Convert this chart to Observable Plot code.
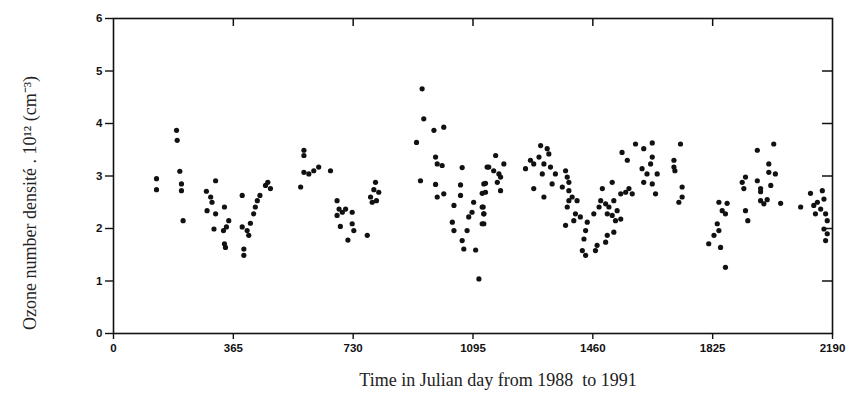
<!DOCTYPE html>
<html>
<head>
<meta charset="utf-8">
<script src="https://cdn.jsdelivr.net/npm/d3@7"></script>
<script src="https://cdn.jsdelivr.net/npm/@observablehq/plot@0.6"></script>
<style>
  html, body { margin: 0; padding: 0; background: #fff; }
  svg { display: block; }
</style>
</head>
<body>
<div id="chart"></div>
<script>
// Julian day (since start of 1988) of each observation
const days = [
  131, 131, 192, 194, 202, 207, 207, 212,
  283, 311, 296, 300, 285, 311, 338, 306, 351, 344, 335, 338, 341,
  392, 397, 397, 392, 407, 412, 417, 427, 432, 438, 446, 463, 478, 470,
  580, 580, 570, 580, 595, 610, 625, 661,
  681, 687, 697, 681, 707, 727, 691, 727, 732, 714, 773,
  798, 793, 808, 783, 788, 801,
  940, 945, 976, 1006, 923, 935, 981, 986, 1001, 981, 986, 1006,
  1062, 1057, 1057, 1037, 1032, 1037, 1077, 1062, 1067, 1103, 1113,
  1097, 1092, 1082, 1123, 1128, 1123, 1133, 1123, 1138,
  1128, 1133, 1126, 1128, 1128,
  1164, 1143, 1158, 1174, 1189, 1179, 1169, 1179,
  1255, 1270, 1280, 1301, 1321, 1326, 1296, 1311, 1331, 1306, 1346,
  1280, 1311, 1336,
  1377, 1382, 1387, 1367, 1387, 1397, 1387, 1412, 1382, 1407, 1422, 1402, 1443, 1377, 1438,
  1433, 1428, 1438, 1468, 1473, 1499, 1504, 1524,
  1463, 1479, 1484, 1489, 1499, 1509, 1504, 1519, 1529, 1545, 1534, 1524, 1519,
  1545, 1560, 1570, 1580, 1549, 1565,
  1590, 1615, 1641, 1641, 1636, 1610, 1625, 1656, 1615, 1641, 1651,
  1727, 1707, 1707, 1710, 1732, 1732, 1722,
  1844, 1869, 1854, 1864, 1839, 1844, 1829, 1813, 1849, 1864,
  1961, 2011, 1925, 1915, 1920, 1961, 1971, 1971, 1996, 1996, 2016, 2002,
  1971, 1981, 1991, 2032, 1925, 1932,
  2093, 2123, 2133, 2144, 2159, 2164, 2154, 2138, 2169, 2174, 2164, 2174, 2169
];
// Ozone number density (x 10^12 cm^-3)
const ozone = [
  2.95, 2.74, 3.87, 3.68, 3.09, 2.85, 2.72, 2.15,
  2.71, 2.91, 2.60, 2.50, 2.34, 2.28, 2.41, 1.99, 2.15, 2.03, 1.96, 1.71, 1.64,
  2.63, 1.61, 1.49, 2.03, 1.96, 1.87, 2.10, 2.28, 2.41, 2.53, 2.63, 2.82, 2.76, 2.88,
  3.49, 3.39, 2.79, 3.07, 3.04, 3.10, 3.17, 3.10,
  2.53, 2.37, 2.31, 2.25, 2.37, 2.31, 2.04, 2.09, 1.96, 1.78, 1.87,
  2.88, 2.74, 2.69, 2.60, 2.50, 2.53,
  4.66, 4.09, 3.87, 3.93, 3.64, 2.91, 3.36, 3.23, 3.20, 2.84, 2.60, 2.66,
  3.16, 2.83, 2.63, 2.44, 2.12, 1.96, 1.96, 1.77, 1.61, 1.59, 1.04,
  2.50, 2.31, 2.22, 2.41, 2.28, 2.09, 2.86, 2.67, 3.17,
  2.85, 2.69, 2.41, 2.28, 2.09,
  3.39, 3.17, 3.10, 3.04, 3.23, 2.98, 2.88, 2.72,
  3.14, 3.30, 3.23, 3.58, 3.52, 3.42, 3.36, 3.23, 3.17, 3.04, 3.04,
  2.76, 2.60, 2.85,
  3.10, 2.98, 2.88, 2.79, 2.72, 2.60, 2.53, 2.53, 2.41, 2.28, 2.22, 2.15, 2.12, 2.06, 1.96,
  1.80, 1.58, 1.49, 1.58, 1.68, 1.74, 1.87, 1.93,
  2.28, 2.41, 2.53, 2.76, 2.47, 2.41, 2.28, 2.25, 2.15, 2.18, 2.34, 2.53, 2.88,
  2.66, 2.69, 2.76, 2.66, 3.45, 3.30,
  3.61, 3.52, 3.63, 3.36, 3.23, 3.14, 3.04, 3.04, 2.88, 2.85, 2.66,
  3.61, 3.30, 3.17, 3.10, 2.79, 2.60, 2.50,
  2.50, 2.48, 2.34, 2.28, 2.09, 1.96, 1.87, 1.71, 1.64, 1.26,
  3.49, 3.61, 2.98, 2.88, 2.76, 2.91, 2.76, 2.70, 3.23, 3.07, 3.04, 2.82,
  2.53, 2.47, 2.55, 2.48, 2.34, 2.15,
  2.41, 2.67, 2.44, 2.50, 2.72, 2.56, 2.37, 2.28, 2.28, 2.15, 1.99, 1.90, 1.77
];
const xTicks = [0, 365, 730, 1095, 1460, 1825, 2190];
const yTicks = [0, 1, 2, 3, 4, 5, 6];
const xLabel = "Time in Julian day from 1988  to 1991";
const yLabel = "Ozone number densité . 10¹² (cm⁻³)";

const data = days.map((d, i) => ({day: d, ozone: ozone[i]}));

const tickFont = "Liberation Sans, Arial, sans-serif";
const labelFont = "Liberation Serif, Times New Roman, serif";

const W = 852, H = 403, mL = 113, mR = 20, mT = 18, mB = 70;
const plotW = W - mL - mR, plotH = H - mT - mB;

const chart = Plot.plot({
  width: W,
  height: H,
  marginLeft: mL,
  marginRight: mR,
  marginTop: mT,
  marginBottom: mB,
  style: {fontFamily: tickFont, fontSize: "11px", color: "#111", background: "#fff"},
  x: {domain: [0, 2190]},
  y: {domain: [0, 6]},
  marks: [
    Plot.axisX({anchor: "bottom", ticks: xTicks, tickSize: 6, tickPadding: 4, label: null,
      tickFormat: "d", fontWeight: "bold", fontSize: 11.5, strokeWidth: 1.4}),
    Plot.axisY({anchor: "left", ticks: yTicks, tickSize: 8, tickPadding: 3, label: null,
      tickFormat: "d", fontWeight: "bold", fontSize: 11.5, strokeWidth: 1.4}),
    // inward ticks on the top and right edges
    Plot.ruleX(xTicks.slice(1, -1), {x: (d) => d, insetBottom: plotH - 8, stroke: "#111", strokeWidth: 1.5}),
    Plot.ruleY(yTicks.slice(1, -1), {y: (d) => d, insetLeft: plotW - 10, stroke: "#111", strokeWidth: 1.5}),
    Plot.frame({stroke: "#111", strokeWidth: 1.6}),
    Plot.dot(data, {x: "day", y: "ozone", r: 2.6, fill: "#111", stroke: "none"}),
    Plot.text([xLabel], {frameAnchor: "bottom", dy: 52, dx: 25, fontFamily: labelFont,
      fontSize: 18, fill: "#222"}),
    Plot.text([yLabel], {frameAnchor: "left", textAnchor: "middle", rotate: -90, dx: -83, dy: 27,
      fontFamily: labelFont, fontSize: 18, fill: "#222"})
  ]
});
document.getElementById("chart").appendChild(chart);
</script>
</body>
</html>
